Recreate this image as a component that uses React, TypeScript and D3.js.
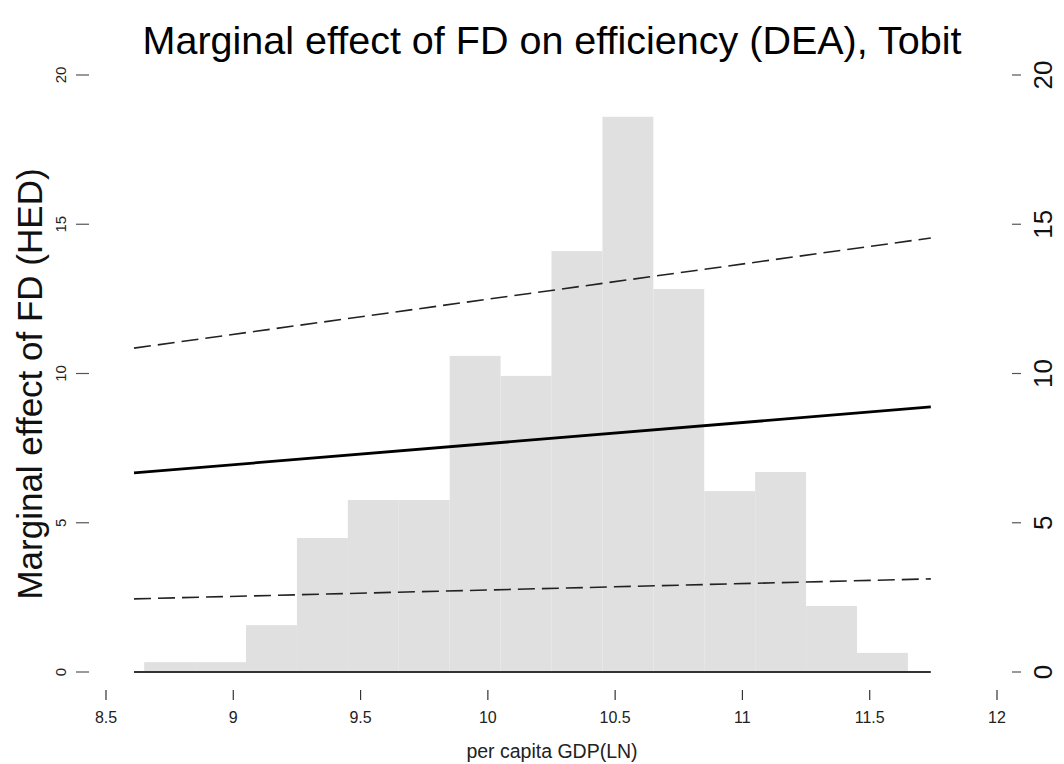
import * as d3 from "d3";

// histogram of per capita GDP (LN), bins of width 0.2
const binStarts = [8.65, 8.85, 9.05, 9.25, 9.45, 9.65, 9.85, 10.05, 10.25, 10.45, 10.65, 10.85, 11.05, 11.25, 11.45];
const binHeights = [0.33, 0.33, 1.57, 4.49, 5.76, 5.76, 10.59, 9.92, 14.1, 18.6, 12.83, 6.06, 6.7, 2.21, 0.64];
const binWidth = 0.2;

// marginal effect line and its confidence band
const lineX = [8.61, 11.74];
const effect = [6.67, 8.88];
const upper = [10.85, 14.54];
const lower = [2.45, 3.12];

const xTicks = [8.5, 9, 9.5, 10, 10.5, 11, 11.5, 12];
const yTicks = [0, 5, 10, 15, 20];

const W = 1064;
const H = 764;
const font = "'Liberation Sans', Arial, sans-serif";

const App = () => {
  const x = d3.scaleLinear().domain([8.5, 12]).range([106, 997]);
  const y = d3.scaleLinear().domain([0, 20]).range([672, 75]);

  const line = d3
    .line<[number, number]>()
    .x((d) => x(d[0]))
    .y((d) => y(d[1]));

  const pts = (vals: number[]) => lineX.map((v, i) => [v, vals[i]] as [number, number]);

  return (
    <svg width={W} height={H} style={{ position: "absolute", left: 0, top: 0, background: "#fff" }} fontFamily={font}>
      <text x={552} y={54} textAnchor="middle" fontSize={39.5} fill="#000">
        Marginal effect of FD on efficiency (DEA), Tobit
      </text>

      {binStarts.map((b, i) => (
        <rect
          key={i}
          x={x(b)}
          y={y(binHeights[i])}
          width={x(b + binWidth) - x(b)}
          height={y(0) - y(binHeights[i])}
          fill="#e0e0e0"
        />
      ))}

      <line x1={x(lineX[0])} x2={x(lineX[1])} y1={y(0)} y2={y(0)} stroke="#333" strokeWidth={2} />

      <path d={line(pts(effect)) || ""} fill="none" stroke="#000" strokeWidth={2.8} />
      <path d={line(pts(upper)) || ""} fill="none" stroke="#222" strokeWidth={1.6} strokeDasharray="17,7" />
      <path d={line(pts(lower)) || ""} fill="none" stroke="#222" strokeWidth={1.6} strokeDasharray="17,7" />

      {/* bottom axis */}
      {xTicks.map((t) => (
        <g key={t}>
          <line x1={x(t)} x2={x(t)} y1={690} y2={700} stroke="#333" strokeWidth={1.2} />
          <text x={x(t)} y={723} textAnchor="middle" fontSize={16} fill="#222">
            {t}
          </text>
        </g>
      ))}
      <text x={552} y={758} textAnchor="middle" fontSize={19.5} fill="#222">
        per capita GDP(LN)
      </text>

      {/* left axis */}
      {yTicks.map((t) => (
        <g key={"l" + t}>
          <line x1={76} x2={89} y1={y(t)} y2={y(t)} stroke="#555" strokeWidth={1.2} />
          <text
            transform={`translate(66,${y(t)}) rotate(-90)`}
            textAnchor="middle"
            fontSize={15}
            fill="#222"
          >
            {t}
          </text>
        </g>
      ))}
      <text
        transform={`translate(42,384) rotate(-90)`}
        textAnchor="middle"
        fontSize={35}
        fill="#111"
      >
        Marginal effect of FD (HED)
      </text>

      {/* right axis */}
      {yTicks.map((t) => (
        <g key={"r" + t}>
          <line x1={1012} x2={1021} y1={y(t)} y2={y(t)} stroke="#555" strokeWidth={1.2} />
          <text
            transform={`translate(1052,${y(t)}) rotate(-90)`}
            textAnchor="middle"
            fontSize={26}
            fill="#111"
          >
            {t}
          </text>
        </g>
      ))}
    </svg>
  );
};

export default App;
